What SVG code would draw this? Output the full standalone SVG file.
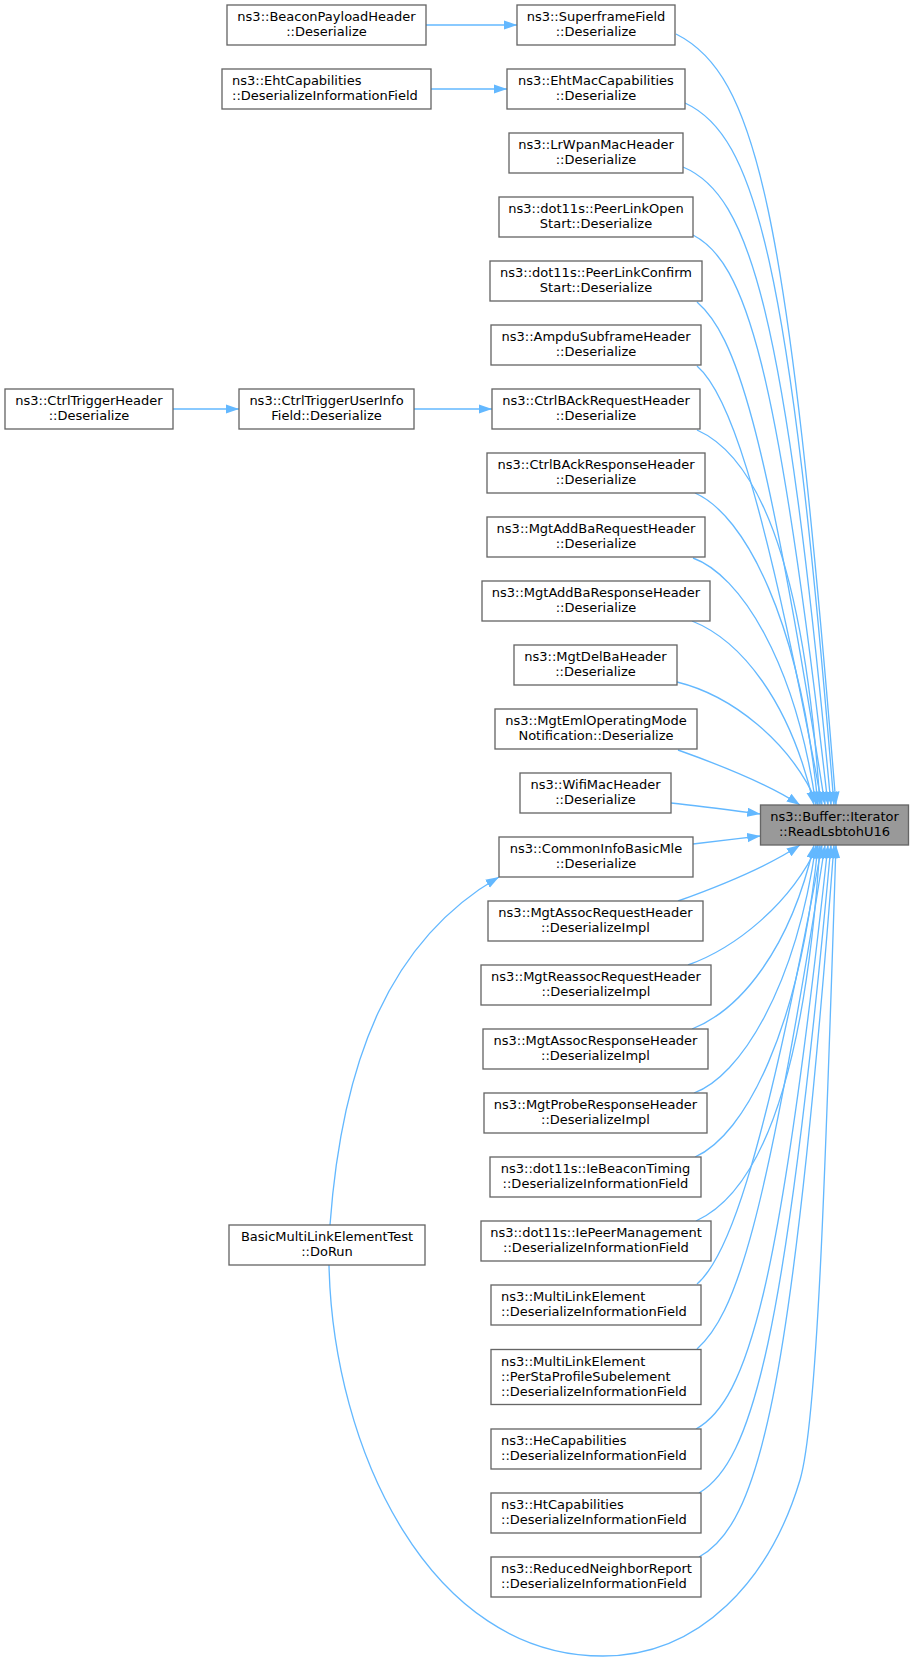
<svg xmlns="http://www.w3.org/2000/svg" width="915" height="1662" viewBox="0 0 915 1662">
<style>
.node rect{fill:#ffffff;stroke:#666666;stroke-width:1.33}
#target rect{fill:#999999}
text{font-family:"DejaVu Sans","Noto Sans",sans-serif;font-size:13px;fill:#000000}
.c{text-anchor:middle}
.l{text-anchor:start}
.edges path{fill:none;stroke:#63b8ff;stroke-width:1.33;marker-end:url(#ah)}
</style>
<defs>
<marker id="ah" markerUnits="userSpaceOnUse" markerWidth="14" markerHeight="10" viewBox="0 0 14 10" refX="13.3" refY="4.65" orient="auto">
<path d="M0,0 L13.3,4.65 L0,9.3 Z" fill="#63b8ff"/>
</marker>
</defs>
<rect x="0" y="0" width="915" height="1662" fill="#ffffff"/>
<g class="edges" id="connectors">
<path d="M676,34 C756,74 788,205 836,805"/>
<path d="M685,103 C755,135 790,260 834,805"/>
<path d="M683,167 C750,195 785,310 831,805"/>
<path d="M693,235 C745,262 778,360 828,805"/>
<path d="M697,302 C735,335 765,420 825,805"/>
<path d="M697,366 C725,390 760,470 822,805"/>
<path d="M697,430 C760,458 805,570 820,805"/>
<path d="M695,493 C745,515 800,620 818,805"/>
<path d="M693,558 C740,575 795,660 816,805"/>
<path d="M692,621 C740,640 790,700 814,805"/>
<path d="M677,682 C730,695 790,740 818,805"/>
<path d="M678,750 C720,765 770,785 800,805"/>
<path d="M671,803 C700,806 730,810 760.5,814"/>
<path d="M693,844 C715,841.5 738,838.7 760.5,836"/>
<path d="M678,901 C720,886 770,865 800,845"/>
<path d="M688,965 C735,948 790,905 818,845"/>
<path d="M692,1029 C740,1010 790,950 814,845"/>
<path d="M694,1093 C740,1076 795,990 816,845"/>
<path d="M695,1157 C745,1135 800,1030 818,845"/>
<path d="M696,1221 C760,1192 805,1080 820,845"/>
<path d="M697,1284 C725,1260 760,1180 822,845"/>
<path d="M697,1349 C735,1315 765,1230 825,845"/>
<path d="M696,1429 C748,1400 780,1290 828,845"/>
<path d="M699,1493 C752,1462 786,1340 831,845"/>
<path d="M699,1557 C758,1525 792,1400 834,845"/>
<path d="M329,1265 C333,1450 430,1656 603,1656 C700,1656 770,1580 800,1480 C818,1420 826,1150 836,845"/>
<path d="M330,1225 C342,1060 390,940 499,877"/>
<path d="M426,25 L517,25"/>
<path d="M431,89 L507,89"/>
<path d="M173,409 L239,409"/>
<path d="M414,409 L492,409"/>
</g>
<g id="target" class="node"><rect x="760.5" y="805" width="148" height="40"/><text class="c" x="834.5" y="821">ns3::Buffer::Iterator</text><text class="c" x="834.5" y="836">::ReadLsbtohU16</text></g>
<g id="n1" class="node"><rect x="517" y="5" width="158" height="40"/><text class="c" x="596" y="21">ns3::SuperframeField</text><text class="c" x="596" y="36">::Deserialize</text></g>
<g id="n2" class="node"><rect x="507" y="69" width="178" height="40"/><text class="c" x="596" y="85">ns3::EhtMacCapabilities</text><text class="c" x="596" y="100">::Deserialize</text></g>
<g id="n3" class="node"><rect x="509" y="133" width="174" height="40"/><text class="c" x="596" y="149">ns3::LrWpanMacHeader</text><text class="c" x="596" y="164">::Deserialize</text></g>
<g id="n4" class="node"><rect x="499" y="197" width="194" height="40"/><text class="c" x="596" y="213">ns3::dot11s::PeerLinkOpen</text><text class="c" x="596" y="228">Start::Deserialize</text></g>
<g id="n5" class="node"><rect x="490" y="261" width="212" height="40"/><text class="c" x="596" y="277">ns3::dot11s::PeerLinkConfirm</text><text class="c" x="596" y="292">Start::Deserialize</text></g>
<g id="n6" class="node"><rect x="491" y="325" width="210" height="40"/><text class="c" x="596" y="341">ns3::AmpduSubframeHeader</text><text class="c" x="596" y="356">::Deserialize</text></g>
<g id="n7" class="node"><rect x="492" y="389" width="208" height="40"/><text class="c" x="596" y="405">ns3::CtrlBAckRequestHeader</text><text class="c" x="596" y="420">::Deserialize</text></g>
<g id="n8" class="node"><rect x="487" y="453" width="218" height="40"/><text class="c" x="596" y="469">ns3::CtrlBAckResponseHeader</text><text class="c" x="596" y="484">::Deserialize</text></g>
<g id="n9" class="node"><rect x="487" y="517" width="218" height="40"/><text class="c" x="596" y="533">ns3::MgtAddBaRequestHeader</text><text class="c" x="596" y="548">::Deserialize</text></g>
<g id="n10" class="node"><rect x="482" y="581" width="228" height="40"/><text class="c" x="596" y="597">ns3::MgtAddBaResponseHeader</text><text class="c" x="596" y="612">::Deserialize</text></g>
<g id="n11" class="node"><rect x="514" y="645" width="163" height="40"/><text class="c" x="595.5" y="661">ns3::MgtDelBaHeader</text><text class="c" x="595.5" y="676">::Deserialize</text></g>
<g id="n12" class="node"><rect x="495" y="709" width="202" height="40"/><text class="c" x="596" y="725">ns3::MgtEmlOperatingMode</text><text class="c" x="596" y="740">Notification::Deserialize</text></g>
<g id="n13" class="node"><rect x="520" y="773" width="151" height="40"/><text class="c" x="595.5" y="789">ns3::WifiMacHeader</text><text class="c" x="595.5" y="804">::Deserialize</text></g>
<g id="n14" class="node"><rect x="499" y="837" width="194" height="40"/><text class="c" x="596" y="853">ns3::CommonInfoBasicMle</text><text class="c" x="596" y="868">::Deserialize</text></g>
<g id="n15" class="node"><rect x="488" y="901" width="215" height="40"/><text class="c" x="595.5" y="917">ns3::MgtAssocRequestHeader</text><text class="c" x="595.5" y="932">::DeserializeImpl</text></g>
<g id="n16" class="node"><rect x="481" y="965" width="230" height="40"/><text class="c" x="596" y="981">ns3::MgtReassocRequestHeader</text><text class="c" x="596" y="996">::DeserializeImpl</text></g>
<g id="n17" class="node"><rect x="483" y="1029" width="225" height="40"/><text class="c" x="595.5" y="1045">ns3::MgtAssocResponseHeader</text><text class="c" x="595.5" y="1060">::DeserializeImpl</text></g>
<g id="n18" class="node"><rect x="484" y="1093" width="223" height="40"/><text class="c" x="595.5" y="1109">ns3::MgtProbeResponseHeader</text><text class="c" x="595.5" y="1124">::DeserializeImpl</text></g>
<g id="n19" class="node"><rect x="490" y="1157" width="211" height="40"/><text class="c" x="595.5" y="1173">ns3::dot11s::IeBeaconTiming</text><text class="c" x="595.5" y="1188">::DeserializeInformationField</text></g>
<g id="n20" class="node"><rect x="481" y="1221" width="230" height="40"/><text class="c" x="596" y="1237">ns3::dot11s::IePeerManagement</text><text class="c" x="596" y="1252">::DeserializeInformationField</text></g>
<g id="n21" class="node"><rect x="491" y="1285" width="210" height="40"/><text class="l" x="501" y="1301">ns3::MultiLinkElement</text><text class="l" x="501" y="1316">::DeserializeInformationField</text></g>
<g id="n22" class="node"><rect x="491" y="1349.5" width="210" height="55"/><text class="l" x="501" y="1366">ns3::MultiLinkElement</text><text class="l" x="501" y="1381">::PerStaProfileSubelement</text><text class="l" x="501" y="1396">::DeserializeInformationField</text></g>
<g id="n23" class="node"><rect x="491" y="1429" width="210" height="40"/><text class="l" x="501" y="1445">ns3::HeCapabilities</text><text class="l" x="501" y="1460">::DeserializeInformationField</text></g>
<g id="n24" class="node"><rect x="491" y="1493" width="210" height="40"/><text class="l" x="501" y="1509">ns3::HtCapabilities</text><text class="l" x="501" y="1524">::DeserializeInformationField</text></g>
<g id="n25" class="node"><rect x="491" y="1557" width="210" height="40"/><text class="l" x="501" y="1573">ns3::ReducedNeighborReport</text><text class="l" x="501" y="1588">::DeserializeInformationField</text></g>
<g id="n26" class="node"><rect x="227" y="5" width="199" height="40"/><text class="c" x="326.5" y="21">ns3::BeaconPayloadHeader</text><text class="c" x="326.5" y="36">::Deserialize</text></g>
<g id="n27" class="node"><rect x="222" y="69" width="209" height="40"/><text class="l" x="232" y="85">ns3::EhtCapabilities</text><text class="l" x="232" y="100">::DeserializeInformationField</text></g>
<g id="n28" class="node"><rect x="239" y="389" width="175" height="40"/><text class="c" x="326.5" y="405">ns3::CtrlTriggerUserInfo</text><text class="c" x="326.5" y="420">Field::Deserialize</text></g>
<g id="n29" class="node"><rect x="5" y="389" width="168" height="40"/><text class="c" x="89" y="405">ns3::CtrlTriggerHeader</text><text class="c" x="89" y="420">::Deserialize</text></g>
<g id="n30" class="node"><rect x="229" y="1225" width="196" height="40"/><text class="c" x="327" y="1241">BasicMultiLinkElementTest</text><text class="c" x="327" y="1256">::DoRun</text></g>
</svg>
